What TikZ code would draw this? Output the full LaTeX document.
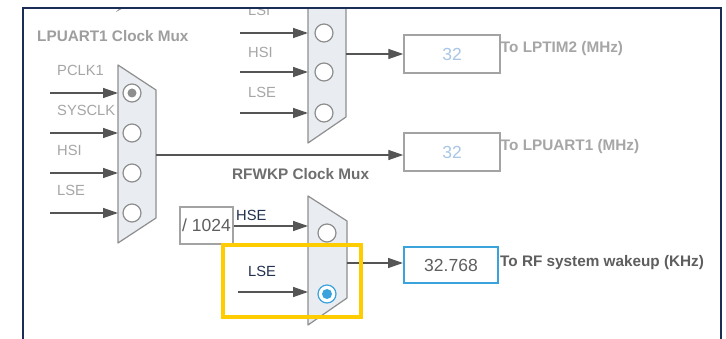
\documentclass[tikz,border=0pt]{standalone}
\usepackage{fontspec}
\setmainfont{Liberation Sans}
\usetikzlibrary{arrows.meta}
\definecolor{framec}{HTML}{1B2D55}
\definecolor{arrowc}{HTML}{555555}
\definecolor{muxfill}{HTML}{E9EDF1}
\definecolor{muxdraw}{HTML}{8E8E8E}
\definecolor{dimtext}{HTML}{A6A6A6}
\definecolor{numblue}{HTML}{A9C6E6}
\definecolor{boxgrey}{HTML}{A3A3A3}
\definecolor{darktext}{HTML}{5E5E5E}
\definecolor{navytext}{HTML}{22304F}
\definecolor{selblue}{HTML}{3BA3DC}
\definecolor{hiyellow}{HTML}{FFCC00}
\tikzset{
  lbl/.style={font=\fontsize{14.7}{16}\selectfont, inner sep=0pt, anchor=west},
  dimlbl/.style={lbl, text=dimtext},
  titlelbl/.style={lbl, font=\fontsize{15.3}{17}\selectfont\bfseries},
  arr/.style={draw=arrowc, line width=1.4pt, -{Triangle[length=15pt,width=10pt]}, arrowc},
  muxshape/.style={fill=muxfill, draw=muxdraw, line width=1.2pt, line join=round},
  selcirc/.style={circle, minimum size=18pt, inner sep=0pt, draw=muxdraw, fill=white, line width=1.2pt},
  valbox/.style={draw=boxgrey, fill=white, line width=1.5pt, inner sep=0pt,
    font=\fontsize{17.5}{19}\selectfont},
}
\begin{document}
\begin{tikzpicture}[x=1pt,y=-1pt]
\useasboundingbox (0,0) rectangle (726,339);
\fill[white] (0,0) rectangle (726,339);

% ---------- top (clipped) mux : LPTIM2 ----------
\begin{scope}
\clip (0,9) rectangle (726,339);
\fill[muxdraw] (116,12) -- (127,6) -- (124,4) -- cycle;
\draw[muxshape] (308,-5) -- (346,-5) -- (346,117) -- (308,143) -- cycle;
\node[dimlbl] (lsi2) at (248,10) {LSI};
\end{scope}
\node[selcirc] (m2a) at (324,33) {};
\node[selcirc] (m2b) at (324,72) {};
\node[selcirc] (m2c) at (324,113) {};
\coordinate (m2ina) at (308,33);
\coordinate (m2inb) at (308,72);
\coordinate (m2inc) at (308,113);
\coordinate (s2a) at (240,33);
\coordinate (s2b) at (240,72);
\coordinate (s2c) at (240,113);
\draw[arr] (s2a) -- (m2ina);
\draw[arr] (s2b) -- (m2inb);
\draw[arr] (s2c) -- (m2inc);
\node[dimlbl] (hsi2) at (248,52) {HSI};
\node[dimlbl] (lse2) at (248,92) {LSE};
\coordinate (m2out) at (346,54);

\node[valbox, minimum width=96pt, minimum height=38pt, text=numblue] (b2) at (452,54) {32};
\draw[arr] (m2out) -- (b2.west);
\node[titlelbl, text=dimtext] (t2) at (b2.east |- 0,49) {To LPTIM2 (MHz)};

% ---------- LPUART1 mux ----------
\node[titlelbl, text=dimtext!95!black] (title1) at (37,36) {LPUART1 Clock Mux};
\draw[muxshape] (118,65) -- (156,90) -- (156,218) -- (118,243) -- cycle;
\node[selcirc] (m1a) at (132,93) {};
\fill[muxdraw] (m1a) circle (4.5pt);
\node[selcirc] (m1b) at (132,133) {};
\node[selcirc] (m1c) at (132,173) {};
\node[selcirc] (m1d) at (132,213) {};
\coordinate (s1a) at (50,93);
\coordinate (s1b) at (50,133);
\coordinate (s1c) at (50,173);
\coordinate (s1d) at (50,213);
\coordinate (m1ina) at (118,93);
\coordinate (m1inb) at (118,133);
\coordinate (m1inc) at (118,173);
\coordinate (m1ind) at (118,213);
\draw[arr] (s1a) -- (m1ina);
\draw[arr] (s1b) -- (m1inb);
\draw[arr] (s1c) -- (m1inc);
\draw[arr] (s1d) -- (m1ind);
\node[dimlbl] (pclk) at (57,70) {PCLK1};
\node[dimlbl] (sysclk) at (57,110) {SYSCLK};
\node[dimlbl] (hsi1) at (57,150) {HSI};
\node[dimlbl] (lse1) at (57,190) {LSE};
\coordinate (m1out) at (156,155);

\node[valbox, minimum width=96pt, minimum height=38pt, text=numblue] (b1) at (452,152) {32};
\draw[arr] (m1out) -- (b1.west |- m1out);
\node[titlelbl, text=dimtext] (t1) at (b1.east |- 0,147) {To LPUART1 (MHz)};

% ---------- RFWKP mux ----------
\node[titlelbl, text=darktext!90!white] (title3) at (232,174) {RFWKP Clock Mux};
\draw[muxshape] (308,196) -- (347,221) -- (347,298) -- (308,325) -- cycle;
\node[selcirc] (m3a) at (327,233) {};
\node[selcirc, draw=selblue] (m3b) at (327,294) {};
\fill[selblue] (m3b) circle (5pt);
\node[valbox, minimum width=53pt, minimum height=37pt, text=darktext] (div) at (206.5,225.5) {/ 1024};
\coordinate (m3ina) at (308,226);
\coordinate (m3inb) at (308,292);
\coordinate (s3b) at (238,292);
\draw[arr] (div.east |- m3ina) -- (m3ina);
\draw[arr] (s3b) -- (m3inb);
\node[lbl, text=navytext] (hse3) at (236,215) {HSE};
\node[lbl, text=navytext] (lse3) at (248,271) {LSE};
\coordinate (m3out) at (347,263);
\node[valbox, draw=selblue, line width=2pt, minimum width=94pt, minimum height=36pt, text=darktext] (b3) at (451,265) {32.768};
\draw[arr] (m3out) -- (b3.west |- m3out);
\node[titlelbl, text=darktext] (t3) at (500,263) {To RF system wakeup (KHz)};

% highlight
\draw[hiyellow, line width=4pt] (223,245.5) rectangle (360.5,316.5);

% frame
\draw[framec, line width=2pt] (23,339) -- (23,8) -- (721,8) -- (721,339);
\end{tikzpicture}
\end{document}
